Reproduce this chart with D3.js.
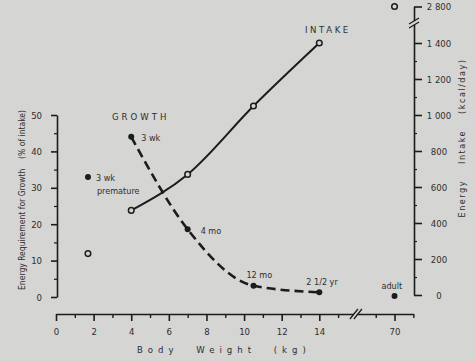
<!DOCTYPE html>
<html><head><meta charset="utf-8">
<script src="https://cdn.jsdelivr.net/npm/d3@7"></script>
<style>
html,body{margin:0;padding:0;background:#d5d5d3;}
svg{display:block;font-family:"Liberation Sans Narrow","DejaVu Sans Condensed","Liberation Sans",Arial,sans-serif;}
</style></head><body>
<svg id="c" width="475" height="361"></svg>
<script>
// ---- data ----
const growthWeights = [4, 7, 10.5, 14];
const growthValues  = [44, 18.6, 3.1, 1.3];
const growthLabels  = ["3 wk", "4 mo", "12 mo", "2 1/2 yr"];
const intakeWeights = [4, 7, 10.5, 14];
const intakeValues  = [470, 670, 1050, 1400];
const prematureWeight = [1.7];
const prematureGrowth = [33];
const prematureIntake = [230];
const adultWeight = [70];
const adultGrowth = [0.3];
const adultIntake = [2800];
const xTickValues = [0, 2, 4, 6, 8, 10, 12, 14, 70];
const xMinorTicks = [1, 3, 5, 7, 9, 11, 13, 15, 69, 71];
const leftTickValues = [0, 10, 20, 30, 40, 50];
const leftMinorTicks = [5, 15, 25, 35, 45];
const rightTickValues = [0, 200, 400, 600, 800, 1000, 1200, 1400, 2800];
const rightTickLabels = ["0", "200", "400", "600", "800", "1 000", "1 200", "1 400", "2 800"];
const rightMinorTicks = [100, 300, 500, 700, 900, 1100, 1300];

// ---- layout ----
const svg = d3.select("#c");
const ink = "#1c1c1c", txt = "#2e2e2e";
const x0 = 56, u = (319.3 - 56) / 14;
const x = d3.scaleLinear().domain([0, 16, 69, 71]).range([x0, x0 + 16 * u, x0 + 17 * u, x0 + 19 * u]);
const yL = d3.scaleLinear().domain([0, 50]).range([297, 115]);
const yR = d3.scaleLinear().domain([0, 1500, 2800]).range([295, 25, 6.5]);
const axisY = 314, leftX = 57, rightX = 414;

function styleAxis(g) {
  g.select(".domain").attr("stroke", ink).attr("stroke-width", 1.6);
  g.selectAll(".tick line").attr("stroke", ink).attr("stroke-width", 1.6);
  g.selectAll(".tick text").attr("fill", txt).attr("font-size", 9.5)
   .attr("font-family", '"Liberation Sans Narrow","DejaVu Sans Condensed",Arial,sans-serif');
}

// bottom axis
const gx = svg.append("g").attr("transform", `translate(0,${axisY})`)
  .call(d3.axisBottom(x).tickValues(xTickValues).tickSize(7).tickSizeOuter(0).tickPadding(7).tickFormat(d3.format("d")));
styleAxis(gx);
svg.append("g").attr("transform", `translate(0,${axisY})`)
  .call(d3.axisBottom(x).tickValues(xMinorTicks).tickSize(4).tickSizeOuter(0).tickFormat(""))
  .call(g => { g.select(".domain").remove(); g.selectAll(".tick line").attr("stroke", ink).attr("stroke-width", 1.4); });
// x break
const bx = x0 + 16 * u;
svg.append("rect").attr("x", bx - 3).attr("y", axisY - 2).attr("width", 4).attr("height", 4).attr("fill", "#d5d5d3");
[-3, 1].forEach(o => svg.append("line").attr("x1", bx + o - 4).attr("y1", axisY + 5).attr("x2", bx + o + 4).attr("y2", axisY - 5)
  .attr("stroke", ink).attr("stroke-width", 1.3));

// left axis
const gl = svg.append("g").attr("transform", `translate(${leftX},0)`)
  .call(d3.axisLeft(yL).tickValues(leftTickValues).tickSize(6).tickSizeOuter(0).tickPadding(9));
styleAxis(gl);
svg.append("g").attr("transform", `translate(${leftX},0)`)
  .call(d3.axisLeft(yL).tickValues(leftMinorTicks).tickSize(3).tickSizeOuter(0).tickFormat(""))
  .call(g => { g.select(".domain").remove(); g.selectAll(".tick line").attr("stroke", ink).attr("stroke-width", 1.2); });

// right axis
const gr = svg.append("g").attr("transform", `translate(${rightX},0)`)
  .call(d3.axisRight(yR).tickValues(rightTickValues).tickSize(8).tickSizeOuter(0).tickPadding(6)
    .tickFormat((d, i) => rightTickLabels[i]));
styleAxis(gr);
gr.selectAll(".tick text").attr("text-anchor", "middle").attr("x", 25);
svg.append("g").attr("transform", `translate(${rightX},0)`)
  .call(d3.axisRight(yR).tickValues(rightMinorTicks).tickSize(3).tickSizeOuter(0).tickFormat(""))
  .call(g => { g.select(".domain").remove(); g.selectAll(".tick line").attr("stroke", ink).attr("stroke-width", 1.2); });
// y break
const by = yR(1500) - 2;
svg.append("rect").attr("x", rightX - 2).attr("y", by - 2).attr("width", 4).attr("height", 4).attr("fill", "#d5d5d3");
[-2, 2].forEach(o => svg.append("line").attr("x1", rightX - 5).attr("y1", by + o + 3).attr("x2", rightX + 5).attr("y2", by + o - 3)
  .attr("stroke", ink).attr("stroke-width", 1.3));

// axis titles
svg.append("text").attr("x", 137).attr("y", 353).attr("fill", txt).attr("font-size", 9.5)
  .attr("letter-spacing", 5).attr("word-spacing", 10).text("Body Weight (kg)");
svg.append("text").attr("transform", "translate(25,200) rotate(-90)").attr("text-anchor", "middle")
  .attr("fill", txt).attr("font-size", 8.5).attr("xml:space", "preserve")
  .text("Energy Requirement for Growth    (% of intake)");
svg.append("text").attr("transform", "translate(465,138) rotate(-90)").attr("text-anchor", "middle")
  .attr("fill", txt).attr("font-size", 9).attr("letter-spacing", 1.5).attr("word-spacing", 12)
  .text("Energy Intake (kcal/day)");

// intake line
const intakePts = intakeWeights.map((w, i) => [x(w), yR(intakeValues[i])]);
svg.append("path").attr("d", d3.line().curve(d3.curveMonotoneX)(intakePts))
  .attr("fill", "none").attr("stroke", ink).attr("stroke-width", 2);
// growth dashed line
const growthPts = growthWeights.map((w, i) => [x(w), yL(growthValues[i])]);
svg.append("path").attr("d", d3.line().curve(d3.curveMonotoneX)(growthPts))
  .attr("fill", "none").attr("stroke", ink).attr("stroke-width", 2.6).attr("stroke-dasharray", "9,5");

// open circles (intake)
const openPts = intakePts.concat([[x(prematureWeight[0]), yR(prematureIntake[0])], [x(adultWeight[0]), yR(adultIntake[0])]]);
svg.selectAll(".open").data(openPts).join("circle").attr("cx", d => d[0]).attr("cy", d => d[1]).attr("r", 2.8)
  .attr("fill", "#d5d5d3").attr("stroke", ink).attr("stroke-width", 1.5);
// filled dots (growth)
const fillPts = growthPts.concat([[x(prematureWeight[0]), yL(prematureGrowth[0])], [x(adultWeight[0]), yL(adultGrowth[0])]]);
svg.selectAll(".fill").data(fillPts).join("circle").attr("cx", d => d[0]).attr("cy", d => d[1]).attr("r", 3)
  .attr("fill", ink);

// annotations
const lab = (t, xx, yy, extra) => {
  const e = svg.append("text").attr("x", xx).attr("y", yy).attr("fill", txt).attr("font-size", 9).text(t);
  if (extra) extra(e);
  return e;
};
const offs = [[10, 4], [13, 5], [-7, -8], [-13, -7]];
growthLabels.forEach((t, i) => lab(t, growthPts[i][0] + offs[i][0], growthPts[i][1] + offs[i][1]));
lab("3 wk", x(prematureWeight[0]) + 8, yL(prematureGrowth[0]) + 4);
lab("premature", x(prematureWeight[0]) + 9, yL(prematureGrowth[0]) + 17);
lab("adult", x(adultWeight[0]) - 13, yL(adultGrowth[0]) - 7);
lab("INTAKE", 305, 33, e => e.attr("letter-spacing", 2.6).attr("font-size", 9.5));
lab("GROWTH", 112, 120, e => e.attr("letter-spacing", 3).attr("font-size", 9.5));
</script>
</body></html>
